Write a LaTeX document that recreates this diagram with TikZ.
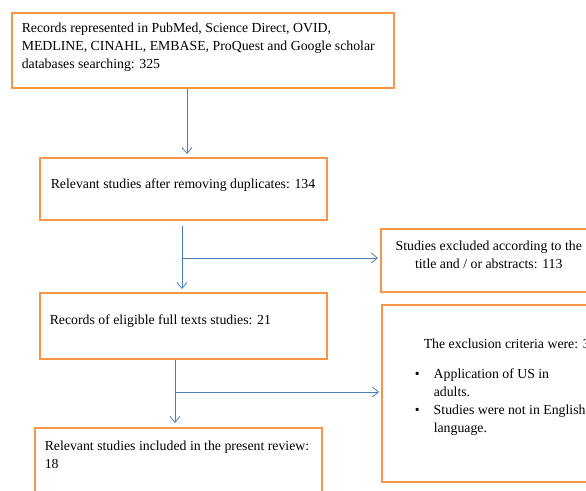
\documentclass[tikz,border=0pt]{standalone}
\usepackage{fontspec}
\setmainfont{Liberation Serif}
\usetikzlibrary{arrows.meta}
\definecolor{boxorange}{HTML}{F79646}
\definecolor{arrowblue}{HTML}{4A7EBB}
% box text: width, height, top gap, text
\newcommand{\flowtext}[4]{\parbox[c][#2][t]{#1}{\raggedright\vspace*{#3}#4}}
\begin{document}
\begin{tikzpicture}[x=1pt,y=-1pt,
  box/.style={draw=boxorange,line width=1.5pt,anchor=north west,
    inner ysep=0pt,inner xsep=10pt,font=\fontsize{13.8}{18}\selectfont},
  arr/.style={draw=arrowblue,line width=0.8pt,
    -{Straight Barb[length=6pt,width=10pt]}}]
\useasboundingbox (0,0) rectangle (586,490);
\clip (0,0) rectangle (586,490);
% left column
\node[box] (rec) at (11,12) {\flowtext{362pt}{75pt}{10pt}{Records represented in PubMed, Science Direct, OVID,\\
  MEDLINE, CINAHL, EMBASE, ProQuest and Google scholar\\ databases searching: 325}};
\node[box,inner xsep=11pt] (dup) at (39,157) {\flowtext{265pt}{62pt}{21pt}{Relevant studies after removing duplicates: 134}};
\node[box] (full) at (39,292) {\flowtext{267pt}{66pt}{22pt}{Records of eligible full texts studies: 21}};
\node[box] (incl) at (34,427) {\flowtext{267pt}{90pt}{13pt}{Relevant studies included in the present review:\\ 18}};
% right column
\node[box,inner xsep=8pt] (excl) at (380,228) {\flowtext{200pt}{63pt}{12pt}{\centering Studies excluded according to the\\ title and / or abstracts: 113}};
\node[box,inner xsep=0pt] (crit) at (381,304) {\flowtext{220pt}{177pt}{34pt}{\hspace*{42pt}The exclusion criteria were: 3\par\vspace{12pt}
  \hangindent=52pt\hangafter=1\hspace*{33pt}\makebox[19pt][l]{\textbullet}Application of US in\newline adults.\par
  \hangindent=52pt\hangafter=1\hspace*{33pt}\makebox[19pt][l]{\textbullet}Studies were not in English\newline language.}};
% connectors
\coordinate (down0) at (187,0);
\coordinate (split1) at (182,258);
\coordinate (split2) at (175,392);
\draw[arr,shorten >=3pt] (down0 |- rec.south) -- (down0 |- dup.north);
\draw[arr,shorten <=5pt,shorten >=3pt] (split1 |- dup.south) -- (split1 |- full.north);
\draw[arr,shorten >=2pt] (split1) -- (split1 -| excl.west);
\draw[arr,shorten >=4pt] (split2 |- full.south) -- (split2 |- incl.north);
\draw[arr,shorten >=2pt] (split2) -- (split2 -| crit.west);
\end{tikzpicture}
\end{document}
